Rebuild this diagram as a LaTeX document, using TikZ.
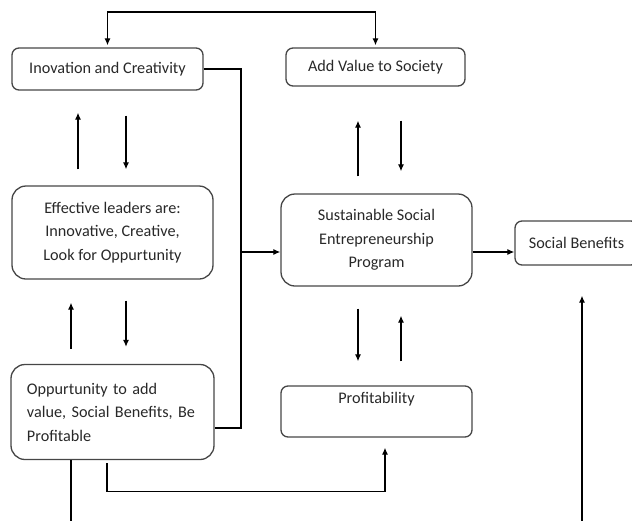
\documentclass[tikz,border=0pt]{standalone}
\usepackage{fontspec}
\setmainfont{Carlito}
\usepackage{tikz}
\usetikzlibrary{arrows.meta, positioning, calc}
\definecolor{boxline}{RGB}{70,70,70}
\definecolor{boxtext}{RGB}{40,40,40}

\tikzset{
    box/.style={draw=boxline, line width=1.3pt, text=boxtext, align=center,
        font=\fontsize{16.2}{23.5}\selectfont, inner sep=0pt},
    smallbox/.style={box, rounded corners=7pt},
    bigbox/.style={box, rounded corners=14pt},
    arr/.style={line width=1.2pt, -{Latex[length=7pt, width=6pt]}},
    plain/.style={line width=1.2pt}
}

\begin{document}
\begin{tikzpicture}[x=1pt, y=-1pt]
    % Canvas
    \clip (0,0) rectangle (632,520);
    \useasboundingbox (0,0) rectangle (632,520);

    % The boxes
    \node[smallbox, minimum width=191, minimum height=42] (inov) at (107.5,69) {Inovation and Creativity};
    \node[smallbox, minimum width=179, minimum height=38] (addv) at (375.5,67) {Add Value to Society};
    \node[bigbox, minimum width=201, minimum height=93] (lead) at (112.5,232.5)
        {Effective leaders are:\\ Innovative, Creative,\\ Look for Oppurtunity};
    \node[bigbox, minimum width=191, minimum height=92] (sesp) at (376.5,240)
        {Sustainable Social\\ Entrepreneurship\\ Program};
    \node[smallbox, minimum width=123, minimum height=44] (socb) at (576.5,243) {Social Benefits};
    \node[bigbox, minimum width=203, minimum height=95, align=left, text width=171] (opp) at (112.5,412)
        {Oppurtunity to add\\ value, Social Benefits, Be\\ Profitable};
    \node[smallbox, minimum width=191, minimum height=51] (prof) at (376.5,411.5) {Profitability\\[3pt]};

    % Columns and joints
    \coordinate (jn) at (241,252);
    \coordinate (oppjn) at (241,428);
    \coordinate (top) at (0,12);
    \coordinate (xa) at (78,0);
    \coordinate (xb) at (126,0);
    \coordinate (xc) at (71,0);
    \coordinate (xd) at (358,0);
    \coordinate (xe) at (401,0);
    \coordinate (xf) at (107,0);
    \coordinate (xg) at (385,0);
    \coordinate (xh) at (582,0);

    % Loop over the top
    \draw[plain, {Latex[length=7pt, width=6pt]}-{Latex[length=7pt, width=6pt]}, shorten <=2pt, shorten >=2pt]
        (inov.north) |- (top -| addv.north) -- (addv.north);

    % Bus on the left into the program
    \draw[plain] (inov.east) -| (oppjn) -- (opp.east |- oppjn);
    \draw[arr] (jn) -- (sesp.west |- jn);
    \draw[arr] (sesp.east |- jn) -- (socb.west |- jn);

    % Arrow pairs between the boxes
    \draw[arr, shorten <=16pt, shorten >=22pt] (lead.north -| xa) -- (inov.south -| xa);
    \draw[arr, shorten <=25pt, shorten >=16pt] (inov.south -| xb) -- (lead.north -| xb);
    \draw[arr, shorten <=15pt, shorten >=23pt] (opp.north -| xc) -- (lead.south -| xc);
    \draw[arr, shorten <=21pt, shorten >=17pt] (lead.south -| xb) -- (opp.north -| xb);
    \draw[arr, shorten <=17pt, shorten >=34pt] (sesp.north -| xd) -- (addv.south -| xd);
    \draw[arr, shorten <=34pt, shorten >=22pt] (addv.south -| xe) -- (sesp.north -| xe);
    \draw[arr, shorten <=22pt, shorten >=24pt] (sesp.south -| xd) -- (prof.north -| xd);
    \draw[arr, shorten <=24pt, shorten >=29pt] (prof.north -| xe) -- (sesp.south -| xe);

    % From the oppurtunity box to profitability and to social benefits
    \draw[arr, shorten <=3pt, shorten >=10pt] (opp.south -| xf) -- ++(0,31) -| (prof.south -| xg);
    \draw[arr, shorten >=30pt] (opp.south -| xc) -- ++(0,80) -| (socb.south -| xh);
\end{tikzpicture}
\end{document}
